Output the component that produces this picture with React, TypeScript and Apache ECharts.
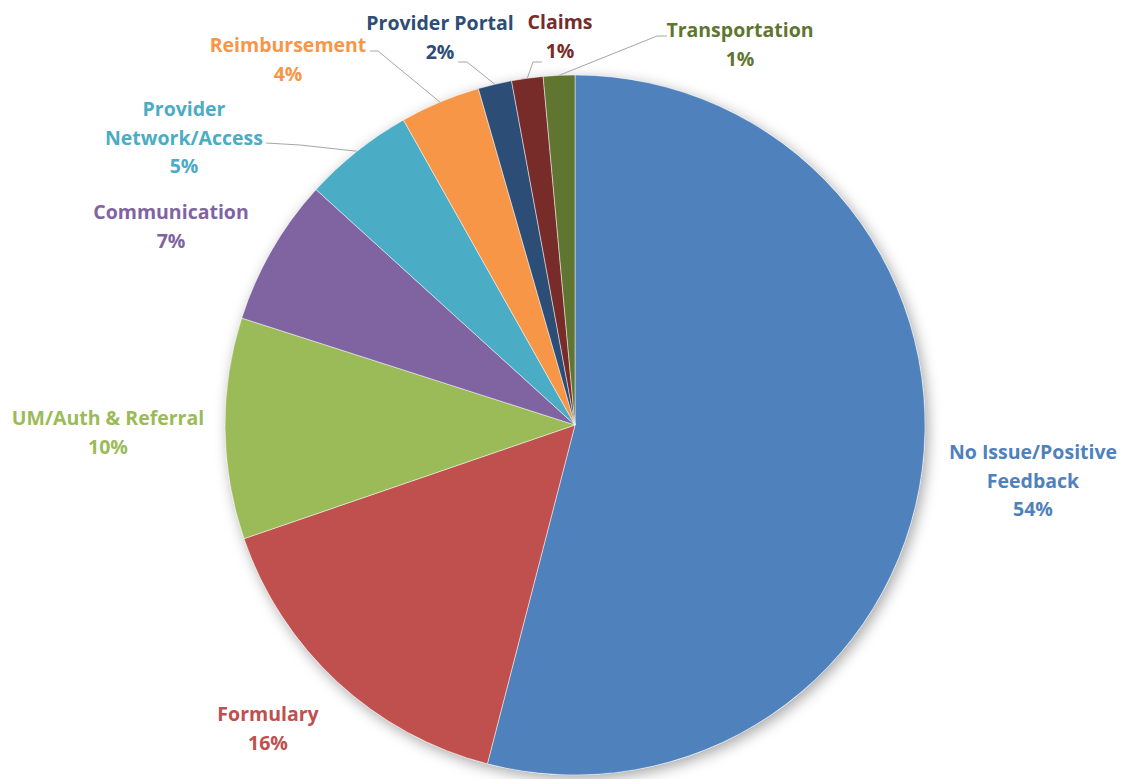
import React, { useEffect, useRef } from "react";
import * as echarts from "echarts";

const categories = [
  "No Issue/Positive Feedback",
  "Formulary",
  "UM/Auth & Referral",
  "Communication",
  "Provider Network/Access",
  "Reimbursement",
  "Provider Portal",
  "Claims",
  "Transportation",
];
const labelNames = [
  "No Issue/Positive\nFeedback",
  "Formulary",
  "UM/Auth & Referral",
  "Communication",
  "Provider\nNetwork/Access",
  "Reimbursement",
  "Provider Portal",
  "Claims",
  "Transportation",
];
const values = [54.0, 15.7, 10.2, 6.8, 5.1, 3.7, 1.55, 1.45, 1.45];
const colors = [
  "#4F81BD",
  "#C0504D",
  "#9BBB59",
  "#8064A2",
  "#4BACC6",
  "#F79646",
  "#2C4D75",
  "#772C2A",
  "#5F7530",
];

// label block centres (layout only)
const labelPos: [number, number][] = [
  [1033, 480],
  [268, 728],
  [108, 432],
  [171, 226],
  [184, 137],
  [288, 59],
  [440, 37],
  [560, 36],
  [740, 44],
];
// leader line elbow and end (layout only); null = no leader line
const leaderPts: ([number, number][] | null)[] = [
  null,
  null,
  null,
  null,
  [[300, 145], [266, 143]],
  [[378, 51], [370, 51]],
  [[467, 62], [458, 62]],
  [[533, 62], [542, 62]],
  [[657, 36], [667, 36]],
];

export default function App() {
  const ref = useRef<HTMLDivElement>(null);
  useEffect(() => {
    if (!ref.current) return;
    const chart = echarts.init(ref.current, undefined, { renderer: "svg" });
    chart.setOption({
      animation: false,
      backgroundColor: "#ffffff",
      series: [
        {
          type: "pie",
          silent: true,
          center: [575, 425],
          radius: 350,
          z: 1,
          label: { show: false },
          labelLine: { show: false },
          data: [
            {
              value: 1,
              itemStyle: {
                color: "#ffffff",
                shadowBlur: 14,
                shadowColor: "rgba(0,0,0,0.35)",
                shadowOffsetX: 3,
                shadowOffsetY: 4,
              },
            },
          ],
        },
        {
          type: "pie",
          center: [575, 425],
          radius: 350,
          z: 2,
          startAngle: 90,
          clockwise: true,
          avoidLabelOverlap: false,
          itemStyle: { borderColor: "rgba(255,255,255,0.6)", borderWidth: 0.8 },
          label: {
            show: true,
            position: "outside",
            fontFamily: "'Open Sans', Lato, sans-serif",
            fontWeight: "bold",
            fontSize: 19.5,
            lineHeight: 28.5,
            align: "center",
            formatter: (p: any) =>
              labelNames[p.dataIndex] + "\n" + Math.round(p.percent) + "%",
          },
          labelLine: {
            show: true,
            lineStyle: { color: "#A6A6A6", width: 1 },
          },
          labelLayout: (p: any) => {
            const i = p.dataIndex;
            const pos = labelPos[i];
            const res: any = {
              x: pos[0],
              y: pos[1],
              align: "center",
              verticalAlign: "middle",
            };
            const lp = leaderPts[i];
            if (lp && p.labelLinePoints) {
              res.labelLinePoints = [p.labelLinePoints[0], lp[0], lp[1]];
            }
            return res;
          },
          data: categories.map((c, i) => ({
            name: c,
            value: values[i],
            itemStyle: { color: colors[i] },
            label: { color: colors[i] },
            labelLine: { show: leaderPts[i] !== null },
          })),
        },
      ],
    });
    return () => chart.dispose();
  }, []);
  return (
    <div
      ref={ref}
      style={{ position: "fixed", left: 0, top: 0, width: 1126, height: 779 }}
    />
  );
}
